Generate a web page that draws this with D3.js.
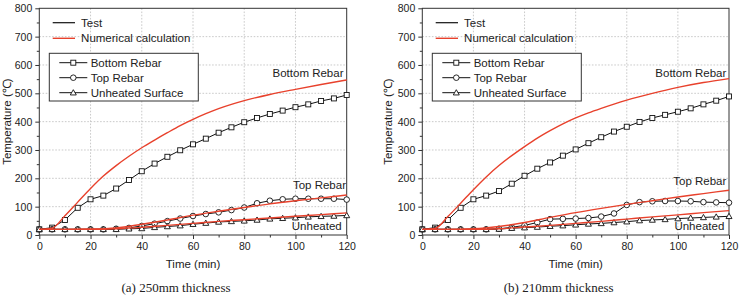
<!DOCTYPE html>
<html><head><meta charset="utf-8">
<script src="https://cdn.jsdelivr.net/npm/d3@7/dist/d3.min.js"></script>
<style>
body{margin:0;background:#fff}
svg{display:block}
text{font-family:"Liberation Sans",Arial,sans-serif;fill:#222}
</style>
</head><body>
<svg id="chart" width="741" height="297"></svg>
<script>
// ---------- data ----------
const xTicks = [0, 20, 40, 60, 80, 100, 120];
const yTicks = [0, 100, 200, 300, 400, 500, 600, 700, 800];
const testTimes = [0,5,10,15,20,25,30,35,40,45,50,55,60,65,70,75,80,85,90,95,100,105,110,115,120];

// (a) 250mm test
const bottomTestA   = [20,26,53,96,126,139,164,194,225,252,276,299,320,340,361,380,398,413,427,439,451,461,473,482,494];
const topTestA      = [20,20,20,20,20,20,22,25,32,40,49,58,67,74,80,88,97,112,121,126,128,128,128,128,125];
const unheatedTestA = [20,20,20,20,20,20,20,22,23,27,30,33,38,42,46,48,50,53,57,59,61,64,66,67,69];
// (b) 210mm test
const bottomTestB   = [20,26,53,96,126,139,155,181,209,234,256,280,302,324,345,365,382,399,413,424,435,447,461,474,489];
const topTestB      = [20,20,20,20,20,20,22,27,34,44,56,57,58,60,65,76,106,116,119,120,120,119,116,115,114];
const unheatedTestB = [20,20,20,20,20,20,21,24,26,28,31,33,36,39,41,44,47,51,53,55,58,60,62,64,66];

// numerical calculation
const calcTimesBottom = [0,5,10,15,20,25,30,35,40,45,50,55,60,65,70,75,80,90,100,110,120];
const calcTimes = [0,10,20,30,40,50,60,70,80,90,100,110,120];
const bottomCalcA   = [20,24,68,116,164,208,245,278,308,335,361,386,408,428,446,461,474,496,514,531,547];
const topCalcA      = [20,20,21,25,38,53,70,84,97,110,121,131,141];
const unheatedCalcA = [20,20,20,22,27,34,41,48,54,60,66,72,78];
const bottomCalcB   = [20,23,65,112,160,205,245,280,312,342,368,392,413,431,447,462,476,500,521,538,552];
const topCalcB      = [20,20,22,30,44,62,79,94,108,121,134,146,158];
const unheatedCalcB = [20,20,20,22,28,34,41,48,56,64,71,79,86];

const legendTop = ["Test", "Numerical calculation"];
const legendBox = ["Bottom Rebar", "Top Rebar", "Unheated Surface"];
const captions = ["(a) 250mm thickness", "(b) 210mm thickness"];

// ---------- drawing ----------
const RED = "#e8412c";
const svg = d3.select("#chart");

const panels = [
  {x0: 39.3, x1: 346.7, caption: captions[0], titleX: 10.5,
   test: [bottomTestA, topTestA, unheatedTestA],
   calc: [[calcTimesBottom, bottomCalcA], [calcTimes, topCalcA], [calcTimes, unheatedCalcA]],
   labels: [{t:"Bottom Rebar", x:343.5, y:76.7}, {t:"Top Rebar", x:346, y:189}, {t:"Unheated", x:341.7, y:230.3}]},
  {x0: 422.3, x1: 729, caption: captions[1], titleX: 391.5,
   test: [bottomTestB, topTestB, unheatedTestB],
   calc: [[calcTimesBottom, bottomCalcB], [calcTimes, topCalcB], [calcTimes, unheatedCalcB]],
   labels: [{t:"Bottom Rebar", x:726.3, y:76.7}, {t:"Top Rebar", x:726.3, y:185}, {t:"Unheated", x:724.3, y:230.3}]}
];
const yTop = 8.3, yBot = 235;

function marker(g, type, cx, cy) {
  const s = 2.5;
  if (type === 0) {
    g.append("rect").attr("x", cx - s).attr("y", cy - s).attr("width", 2*s).attr("height", 2*s)
      .attr("fill", "#fff").attr("stroke", "#111").attr("stroke-width", 0.9);
  } else if (type === 1) {
    g.append("circle").attr("cx", cx).attr("cy", cy).attr("r", 2.8)
      .attr("fill", "#fff").attr("stroke", "#111").attr("stroke-width", 0.9);
  } else {
    const h = 3;
    g.append("path").attr("d", `M${cx},${cy - h}L${cx + h},${cy + h*0.75}L${cx - h},${cy + h*0.75}Z`)
      .attr("fill", "#fff").attr("stroke", "#111").attr("stroke-width", 0.9);
  }
}

panels.forEach(p => {
  const x = d3.scaleLinear().domain([0, 120]).range([p.x0, p.x1]);
  const y = d3.scaleLinear().domain([0, 800]).range([yBot, yTop]);
  const g = svg.append("g");

  // grid
  g.append("g").selectAll("line").data(xTicks.slice(1, -1)).join("line")
    .attr("x1", d => x(d)).attr("x2", d => x(d)).attr("y1", yTop).attr("y2", yBot)
    .attr("stroke", "#bdbdbd").attr("stroke-width", 0.8).attr("stroke-dasharray", "1.6,1.6");
  g.append("g").selectAll("line").data(yTicks.slice(1, -1)).join("line")
    .attr("y1", d => y(d)).attr("y2", d => y(d)).attr("x1", p.x0).attr("x2", p.x1)
    .attr("stroke", "#bdbdbd").attr("stroke-width", 0.8).attr("stroke-dasharray", "1.6,1.6");

  // minor ticks
  const minorX = d3.range(10, 120, 20), minorY = d3.range(50, 800, 100);
  g.append("g").attr("transform", `translate(0,${yBot})`)
    .call(d3.axisBottom(x).tickValues(minorX).tickSize(2.5).tickFormat(""))
    .call(a => a.select(".domain").remove());
  g.append("g").attr("transform", `translate(${p.x0},0)`)
    .call(d3.axisLeft(y).tickValues(minorY).tickSize(2.5).tickFormat(""))
    .call(a => a.select(".domain").remove());

  // major axes
  const ax = g.append("g").attr("transform", `translate(0,${yBot})`)
    .call(d3.axisBottom(x).tickValues(xTicks).tickSize(4).tickPadding(3.5));
  const ay = g.append("g").attr("transform", `translate(${p.x0},0)`)
    .call(d3.axisLeft(y).tickValues(yTicks).tickSize(4).tickPadding(3));
  [ax, ay].forEach(a => {
    a.select(".domain").remove();
    a.selectAll("text").style("font-size", "10.5px").attr("fill", "#222");
  });
  g.selectAll(".tick line").attr("stroke", "#333");

  // frame
  g.append("rect").attr("x", p.x0).attr("y", yTop).attr("width", p.x1 - p.x0).attr("height", yBot - yTop)
    .attr("fill", "none").attr("stroke", "#333").attr("stroke-width", 1);

  // test lines
  const line = d3.line().x(d => x(d[0])).y(d => y(d[1]));
  p.test.forEach(vals => {
    const pts = testTimes.map((t, k) => [t, vals[k]]);
    g.append("path").attr("d", line(pts)).attr("fill", "none").attr("stroke", "#111").attr("stroke-width", 1);
  });
  p.test.forEach((vals, i) => {
    testTimes.forEach((t, k) => marker(g, i, x(t), y(vals[k])));
  });

  // numerical lines
  const cline = d3.line().x(d => x(d[0])).y(d => y(d[1])).curve(d3.curveMonotoneX);
  p.calc.forEach(([ts, vals]) => {
    const pts = ts.map((t, k) => [t, vals[k]]);
    g.append("path").attr("d", cline(pts)).attr("fill", "none").attr("stroke", RED).attr("stroke-width", 1.4);
  });

  // annotations
  p.labels.forEach(l => {
    g.append("text").attr("x", l.x).attr("y", l.y).attr("text-anchor", "end")
      .style("font-size", "11.5px").text(l.t);
  });

  // top legend
  const lx = p.x0 + 13.4;
  [["#111", 22.7, 26.7], [RED, 38.3, 42]].forEach((d, i) => {
    g.append("line").attr("x1", lx).attr("x2", lx + 22.3).attr("y1", d[1]).attr("y2", d[1])
      .attr("stroke", d[0]).attr("stroke-width", i ? 1.4 : 1.2);
    g.append("text").attr("x", lx + 28.4).attr("y", d[2]).style("font-size", "11.5px").text(legendTop[i]);
  });

  // boxed legend
  const bx = p.x0 + 10;
  g.append("rect").attr("x", bx).attr("y", 53.3).attr("width", 149).attr("height", 47.7)
    .attr("fill", "#fff").attr("stroke", "#333").attr("stroke-width", 1);
  legendBox.forEach((name, i) => {
    const ly = 62.7 + 15 * i;
    g.append("line").attr("x1", bx + 10).attr("x2", bx + 38).attr("y1", ly).attr("y2", ly)
      .attr("stroke", "#111").attr("stroke-width", 1);
    marker(g, i, bx + 24, ly);
    g.append("text").attr("x", bx + 41.4).attr("y", ly + 4.4).style("font-size", "11.5px").text(name);
  });

  // axis titles
  const xm = (p.x0 + p.x1) / 2;
  g.append("text").attr("x", xm).attr("y", 268).attr("text-anchor", "middle")
    .style("font-size", "11.5px").text("Time (min)");
  g.append("text").attr("transform", `translate(${p.titleX},${(yTop + yBot) / 2}) rotate(-90)`)
    .attr("text-anchor", "middle").style("font-size", "11.5px").text("Temperature (℃)");

  // caption
  g.append("text").attr("x", xm - 17).attr("y", 292).attr("text-anchor", "middle")
    .style("font-family", "'Liberation Serif','Times New Roman',serif").style("font-size", "13px")
    .text(p.caption);
});
</script>
</body></html>
